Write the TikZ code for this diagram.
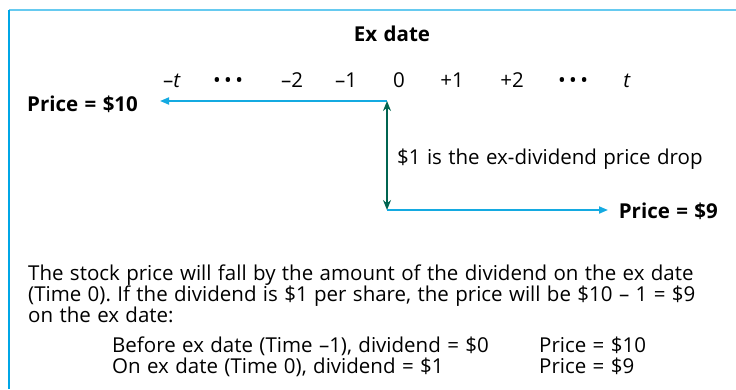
\documentclass[tikz,border=0pt]{standalone}
\usepackage{fontspec}
\setmainfont{Open Sans}[WordSpace=1.2]
\usepackage{tikz}
\usetikzlibrary{arrows.meta, positioning}

\definecolor{framecyan}{RGB}{0,166,230}
\definecolor{linecyan}{RGB}{20,170,225}
\definecolor{dropgreen}{RGB}{0,100,80}

\begin{document}
\frenchspacing
\begin{tikzpicture}[
        x=1pt, y=-1pt,
        every node/.style={inner sep=0pt, font=\fontsize{20.5}{21}\selectfont},
        lbl/.style={anchor=base},
        bold/.style={font=\fontsize{20.5}{21}\selectfont\bfseries},
        txt/.style={anchor=base west},
        pricearrow/.style={-{Triangle[length=9pt, width=7pt]}, line width=1.8pt, linecyan},
        droparrow/.style={{Stealth[length=10pt, width=8pt]}-{Stealth[length=10pt, width=8pt]}, line width=1.6pt, dropgreen}
    ]
        \useasboundingbox (0,0) rectangle (736,389);

        % Frame
        \draw[framecyan!60, line width=1.5pt] (9,10) -- (736,10);
        \draw[framecyan, line width=2.5pt] (9,10) -- (9,389);

        % Title and time line
        \node[bold, lbl] (exdate) at (392,41) {Ex date};
        \foreach \name/\xpos/\lab in {mt/172/{–\textit{t}}, dl/228/{\textbullet\,\textbullet\,\textbullet},
            m2/292/{–2}, m1/346/{–1}, z/399/{0}, p1/452/{+1}, p2/512/{+2},
            dr/573/{\textbullet\,\textbullet\,\textbullet}, pt/627/{\textit{t}}}
            \node[lbl] (tm\name) at (\xpos,87) {\lab};

        % Prices
        \node[bold, txt] (p10) at (27,111) {Price = \$10};
        \node[bold, anchor=base east] (p9) at (718,218) {Price = \$9};
        \coordinate (drop) at (387,101);
        \coordinate (low) at (387,210);
        \coordinate (lefttip) at (160,101);
        \coordinate (righttip) at (608,210);

        % Arrows
        \draw[pricearrow] (drop) -- (lefttip);
        \draw[droparrow] (drop) -- (low);
        \draw[pricearrow] (low) -- (righttip);
        \node[txt] (droptxt) at (397,164) {\$1 is the ex-dividend price drop};

        % Explanation
        \node[txt] (l1) at (28,280) {The stock price will fall by the amount of the dividend on the ex date};
        \node[txt] (l2) at (28,301) {(Time 0). If the dividend is \$1 per share, the price will be \$10 – 1 = \$9};
        \node[txt] (l3) at (28,322) {on the ex date:};
        \node[txt] (b1) at (112,352) {Before ex date (Time –1), dividend = \$0};
        \node[txt] (b2) at (112,373) {On ex date (Time 0), dividend = \$1};
        \node[txt] (c1) at (539,352) {Price = \$10};
        \node[txt] (c2) at (539,373) {Price = \$9};
    \end{tikzpicture}
\end{document}
